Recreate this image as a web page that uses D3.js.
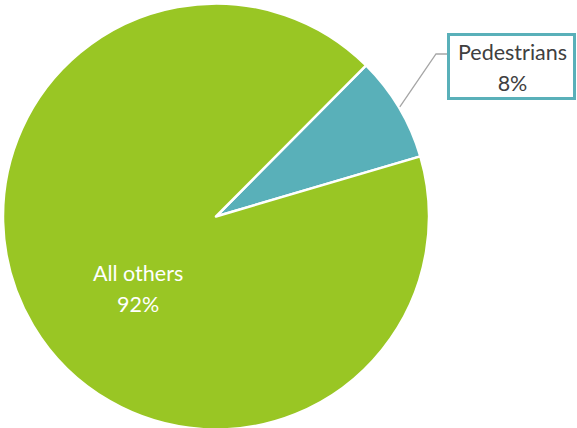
<!DOCTYPE html>
<html>
<head>
<meta charset="utf-8">
<script src="https://cdn.jsdelivr.net/npm/d3@7"></script>
<style>
  html, body { margin: 0; padding: 0; background: #ffffff; }
  svg { display: block; }
  text { font-family: Lato, "Open Sans", sans-serif; }
</style>
</head>
<body>
<svg id="chart" width="577" height="428"></svg>
<script>
// Share of road casualties by group
const categories = ["Pedestrians", "All others"];
const values = [8, 92];
const valueLabels = ["8%", "92%"];
const colors = ["#59b0b9", "#99c624"];

const width = 577, height = 428;
const cx = 216, cy = 216.5, radius = 213;
const startDeg = 44.8;

const svg = d3.select("#chart");
const g = svg.append("g").attr("transform", `translate(${cx},${cy})`);

const data = categories.map((c, i) => ({ name: c, value: values[i], label: valueLabels[i], color: colors[i] }));

const pie = d3.pie()
  .value(d => d.value)
  .sort(null)
  .startAngle(startDeg * Math.PI / 180)
  .endAngle(startDeg * Math.PI / 180 + 2 * Math.PI);

const arcs = pie(data);
const arc = d3.arc().innerRadius(0).outerRadius(radius);

g.selectAll("path.slice")
  .data(arcs)
  .join("path")
  .attr("class", "slice")
  .attr("d", arc)
  .attr("fill", d => d.data.color)
  .attr("stroke", "#ffffff")
  .attr("stroke-width", 2.5)
  .attr("stroke-linejoin", "round");

// Callout for the small slice
const ped = arcs[0];
const mid = (ped.startAngle + ped.endAngle) / 2;
const edge = [Math.sin(mid) * (radius + 1), -Math.cos(mid) * (radius + 1)];
const boxX = 447 - cx, boxY = 33 - cy, boxW = 129, boxH = 67;
const elbow = [436 - cx, 54 - cy];

g.append("polyline")
  .attr("points", [edge, elbow, [boxX, elbow[1]]].map(p => p.join(",")).join(" "))
  .attr("fill", "none")
  .attr("stroke", "#a6a6a6")
  .attr("stroke-width", 1.3);

g.append("rect")
  .attr("x", boxX + 1.5)
  .attr("y", boxY + 1.5)
  .attr("width", boxW - 3)
  .attr("height", boxH - 3)
  .attr("fill", "#ffffff")
  .attr("stroke", ped.data.color)
  .attr("stroke-width", 3);

const pedText = g.append("text")
  .attr("text-anchor", "middle")
  .attr("fill", "#404040")
  .attr("font-size", 21.5);
pedText.append("tspan").attr("x", boxX + boxW / 2 + 1).attr("y", 60.3 - cy).text(ped.data.name);
pedText.append("tspan").attr("x", boxX + boxW / 2 + 1).attr("y", 90.5 - cy).text(ped.data.label);

// Label inside the large slice
const other = arcs[1];
const labelArc = d3.arc().innerRadius(0).outerRadius(radius * 0.95);
const c = labelArc.centroid(other);
const lx = c[0] + 9, ly = c[1] + 13;
const otherText = g.append("text")
  .attr("text-anchor", "middle")
  .attr("fill", "#ffffff")
  .attr("font-size", 21.5);
otherText.append("tspan").attr("x", lx).attr("y", ly).text(other.data.name);
otherText.append("tspan").attr("x", lx).attr("y", ly + 30.5).text(other.data.label);
</script>
</body>
</html>
